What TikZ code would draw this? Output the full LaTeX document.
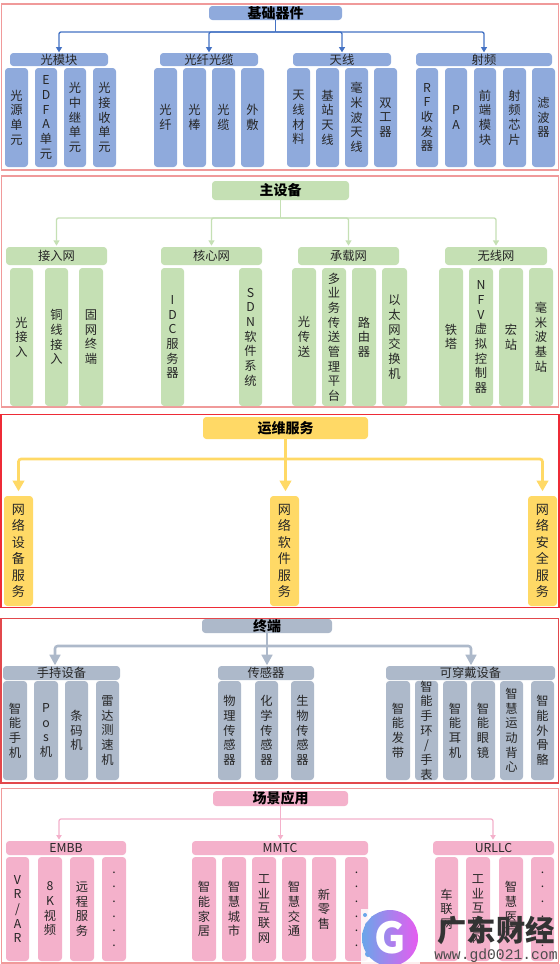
\documentclass[tikz,border=0pt]{standalone}
\usepackage{fontspec}
\setmainfont{Noto Sans CJK SC}
\newfontfamily\wmono{Liberation Mono}
\usetikzlibrary{arrows.meta,calc}
\definecolor{cblue}{HTML}{8FAADC}\definecolor{lblue}{HTML}{4472C4}
\definecolor{cgreen}{HTML}{C5E0B4}
\definecolor{cyellow}{HTML}{FFD966}
\definecolor{cgray}{HTML}{ADB9CA}
\definecolor{cpink}{HTML}{F4B1CB}
\definecolor{txt}{HTML}{262626}
\definecolor{fra}{HTML}{F09A9A}
\definecolor{frb}{HTML}{EE2B36}
\definecolor{frc}{HTML}{E2484C}
\definecolor{gla}{HTML}{6AA6EA}
\definecolor{glb}{HTML}{E65CF0}
\tikzset{
  x=0.75pt,y=-0.75pt,
  box/.style={inner sep=0pt,outer sep=0pt,rounded corners=2.5pt,text=txt,align=center,anchor=center},
  leafA/.style={box,font=\fontsize{9.2}{11}\selectfont},
  leafB/.style={box,font=\fontsize{9.8}{12.4}\selectfont},
  grp/.style={box,font=\fontsize{9.2}{11}\selectfont},
  ttl/.style={box,font=\bfseries\fontsize{10.5}{12}\selectfont,text=black},
  fblue/.style={fill=cblue},fgreen/.style={fill=cgreen},fyel/.style={fill=cyellow},fgry/.style={fill=cgray},fpnk/.style={fill=cpink},
  frameline/.style={line width=1pt},
  c1/.style={draw=lblue,line width=1pt,rounded corners=1.5pt},
  c2/.style={draw=cgreen,line width=1pt,rounded corners=1.5pt},
  c3/.style={draw=cyellow,line width=2pt,rounded corners=2pt},
  c4/.style={draw=cgray,line width=1.9pt,rounded corners=2pt},
  c5/.style={draw=cpink,line width=0.9pt,rounded corners=1.5pt},
  a1/.style={-{Triangle[length=4pt,width=4.5pt]},shorten >=0.5pt},
  a2/.style={-{Triangle[length=4pt,width=4.5pt]},shorten >=1pt},
  a3/.style={-{Triangle[length=8pt,width=8.5pt]},shorten >=3.5pt},
  a4/.style={-{Triangle[length=8pt,width=8pt]},shorten >=0.5pt},
  a5/.style={-{Triangle[length=3.5pt,width=4pt]},shorten >=1pt},
}
% \blk[style]{name}{x0}{y0}{x1}{y1}{text}
\newcommand{\blk}[7][]{%
  \pgfmathsetmacro{\bw}{(#5-#3)*0.75}\pgfmathsetmacro{\bh}{(#6-#4)*0.75}%
  \node[#1,minimum width=\bw pt,minimum height=\bh pt] (#2) at ({(#3+#5)/2},{(#4+#6)/2}) {#7};}
% \conn{line style}{head style}{title}{trunk}{target}
\newcommand{\conn}[5]{\draw[#1] (#3.south) -- (#3.south |- #4);\draw[#1,#2] (#3.south |- #4) -| (#5);}
\begin{document}
\begin{tikzpicture}
\useasboundingbox (0,0) rectangle (560,964);
\fill[white] (0,0) rectangle (560,964);
% frames
\draw[frameline,draw=fra] (1.5,4) rectangle (558.5,170);
\draw[frameline,draw=fra] (1.5,176) rectangle (558.5,407);
\draw[frameline,draw=frb] (1,414.5) rectangle (559,607.5);
\draw[frameline,draw=frc] (1,618.5) rectangle (558.5,783);
\draw[frameline,draw=fra] (1.5,788.5) rectangle (558.5,963);

% ===== section 1
\blk[ttl,fblue]{t1}{209}{6}{342}{20}{基础器件}
\coordinate (tr1) at (0,32);
\blk[grp,fblue]{g11}{10}{53}{108}{66}{光模块}
\blk[grp,fblue]{g12}{160}{53}{258}{66}{光纤光缆}
\blk[grp,fblue]{g13}{293}{53}{391}{66}{天线}
\blk[grp,fblue]{g14}{416}{53}{552}{66}{射频}
\conn{c1}{a1}{t1}{tr1}{g11.north}\conn{c1}{a1}{t1}{tr1}{g12.north}\conn{c1}{a1}{t1}{tr1}{g13.north}\conn{c1}{a1}{t1}{tr1}{g14.north}
\blk[leafA,fblue]{a1n}{5}{68}{28}{167}{光\\源\\单\\元}
\blk[leafA,fblue]{a2n}{35}{68}{57}{167}{E\\D\\F\\A\\单\\元}
\blk[leafA,fblue]{a3n}{64}{68}{86}{167}{光\\中\\继\\单\\元}
\blk[leafA,fblue]{a4n}{93}{68}{116}{167}{光\\接\\收\\单\\元}
\blk[leafA,fblue]{a5n}{154}{68}{177}{167}{光\\纤}
\blk[leafA,fblue]{a6n}{183}{68}{206}{167}{光\\棒}
\blk[leafA,fblue]{a7n}{212}{68}{235}{167}{光\\缆}
\blk[leafA,fblue]{a8n}{241}{68}{264}{167}{外\\敷}
\blk[leafA,fblue]{a9n}{287}{68}{310}{167}{天\\线\\材\\料}
\blk[leafA,fblue]{a10n}{316}{68}{339}{167}{基\\站\\天\\线}
\blk[leafA,fblue]{a11n}{345}{68}{368}{167}{毫\\米\\波\\天\\线}
\blk[leafA,fblue]{a12n}{374}{68}{397}{167}{双\\工\\器}
\blk[leafA,fblue]{a13n}{416}{68}{438}{167}{R\\F\\收\\发\\器}
\blk[leafA,fblue]{a14n}{445}{68}{467}{167}{P\\A}
\blk[leafA,fblue]{a15n}{474}{68}{496}{167}{前\\端\\模\\块}
\blk[leafA,fblue]{a16n}{503}{68}{526}{167}{射\\频\\芯\\片}
\blk[leafA,fblue]{a17n}{532}{68}{555}{167}{滤\\波\\器}

% ===== section 2
\blk[ttl,fgreen]{t2}{212}{181}{349}{200}{主设备}
\coordinate (tr2) at (0,218);
\blk[grp,fgreen]{g21}{6}{247}{107}{265}{接入网}
\blk[grp,fgreen]{g22}{161}{247}{262}{265}{核心网}
\blk[grp,fgreen]{g23}{298}{247}{399}{265}{承载网}
\blk[grp,fgreen]{g24}{445}{247}{547}{265}{无线网}
\conn{c2}{a2}{t2}{tr2}{g21.north}\conn{c2}{a2}{t2}{tr2}{g22.north}\conn{c2}{a2}{t2}{tr2}{g23.north}\conn{c2}{a2}{t2}{tr2}{g24.north}
\blk[leafA,fgreen]{b1}{10}{268}{33}{406}{光\\接\\入}
\blk[leafA,fgreen]{b2}{45}{268}{68}{406}{铜\\线\\接\\入}
\blk[leafA,fgreen]{b3}{79}{268}{103}{406}{固\\网\\终\\端}
\blk[leafA,fgreen]{b4}{161}{268}{184}{406}{I\\D\\C\\服\\务\\器}
\blk[leafA,fgreen]{b5}{239}{268}{262}{406}{S\\D\\N\\软\\件\\系\\统}
\blk[leafA,fgreen]{b6}{292}{268}{316}{406}{光\\传\\送}
\blk[leafA,fgreen]{b7}{322}{268}{346}{406}{多\\业\\务\\传\\送\\管\\理\\平\\台}
\blk[leafA,fgreen]{b8}{352}{268}{376}{406}{路\\由\\器}
\blk[leafA,fgreen]{b9}{382}{268}{407}{406}{以\\太\\网\\交\\换\\机}
\blk[leafA,fgreen]{b10}{439}{268}{463}{406}{铁\\塔}
\blk[leafA,fgreen]{b11}{469}{268}{493}{406}{N\\F\\V\\虚\\拟\\控\\制\\器}
\blk[leafA,fgreen]{b12}{499}{268}{523}{406}{宏\\站}
\blk[leafA,fgreen]{b13}{529}{268}{553}{406}{毫\\米\\波\\基\\站}

% ===== section 3
\blk[ttl,fyel]{t3}{203}{417}{368}{439}{运维服务}
\coordinate (tr3) at (0,459);
\blk[leafB,fyel]{d1}{4}{496}{33}{606}{网\\络\\设\\备\\服\\务}
\blk[leafB,fyel]{d2}{270}{496}{299}{606}{网\\络\\软\\件\\服\\务}
\blk[leafB,fyel]{d3}{528}{496}{557}{606}{网\\络\\安\\全\\服\\务}
\conn{c3}{a3}{t3}{tr3}{d1.north}\conn{c3}{a3}{t3}{tr3}{d3.north}
\draw[c3,a3] (t3.south) -- (t3.south |- d2.north);

% ===== section 4
\blk[ttl,fgry]{t4}{202}{619}{332}{633}{终端}
\coordinate (tr4) at (0,646);
\blk[grp,fgry]{g41}{3}{666}{120}{680}{手持设备}
\blk[grp,fgry]{g42}{218}{666}{314}{680}{传感器}
\blk[grp,fgry]{g43}{386}{666}{555}{680}{可穿戴设备}
\coordinate (p41) at (55,666);\coordinate (p43) at (471,666);
\conn{c4}{a4}{t4}{tr4}{p41}\conn{c4}{a4}{t4}{tr4}{p43}
\draw[c4,a4] (t4.south) -- (t4.south |- g42.north);
\blk[leafA,fgry]{e1}{3}{681}{27}{780}{智\\能\\手\\机}
\blk[leafA,fgry]{e2}{34}{681}{58}{780}{P\\o\\s\\机}
\blk[leafA,fgry]{e3}{65}{681}{88}{780}{条\\码\\机}
\blk[leafA,fgry]{e4}{96}{681}{119}{780}{雷\\达\\测\\速\\机}
\blk[leafA,fgry]{e5}{218}{681}{241}{780}{物\\理\\传\\感\\器}
\blk[leafA,fgry]{e6}{255}{681}{278}{780}{化\\学\\传\\感\\器}
\blk[leafA,fgry]{e7}{291}{681}{314}{780}{生\\物\\传\\感\\器}
\blk[leafA,fgry]{e8}{386}{681}{410}{780}{智\\能\\发\\带}
\blk[leafA,fgry]{e9}{415}{681}{438}{780}{智\\能\\手\\环\\/\\手\\表}
\blk[leafA,fgry]{e10}{443}{681}{467}{780}{智\\能\\耳\\机}
\blk[leafA,fgry]{e11}{471}{681}{495}{780}{智\\能\\眼\\镜}
\blk[leafA,fgry]{e12}{500}{681}{523}{780}{智\\慧\\运\\动\\背\\心}
\blk[leafA,fgry]{e13}{531}{681}{554}{780}{智\\能\\外\\骨\\骼}

% ===== section 5
\blk[ttl,fpnk]{t5}{213}{791}{348}{806}{场景应用}
\coordinate (tr5) at (0,819);
\blk[grp,fpnk]{g51}{6}{841}{126}{855}{EMBB}
\blk[grp,fpnk]{g52}{192}{841}{368}{855}{MMTC}
\blk[grp,fpnk]{g53}{433}{841}{554}{855}{URLLC}
\coordinate (p51) at (59,841);\coordinate (p53) at (493,841);
\conn{c5}{a5}{t5}{tr5}{p51}\conn{c5}{a5}{t5}{tr5}{p53}
\draw[c5,a5] (t5.south) -- (t5.south |- g52.north);
\blk[leafA,fpnk]{f1}{6}{857}{29}{961}{V\\R\\/\\A\\R}
\blk[leafA,fpnk]{f2}{38}{857}{62}{961}{8\\K\\视\\频}
\blk[leafA,fpnk]{f3}{70}{857}{94}{961}{远\\程\\服\\务}
\blk[leafA,fpnk]{f4}{102}{857}{126}{961}{.\\.\\.\\.\\.\\.}
\blk[leafA,fpnk]{f5}{192}{857}{216}{961}{智\\能\\家\\居}
\blk[leafA,fpnk]{f6}{222}{857}{246}{961}{智\\慧\\城\\市}
\blk[leafA,fpnk]{f7}{252}{857}{276}{961}{工\\业\\互\\联\\网}
\blk[leafA,fpnk]{f8}{282}{857}{306}{961}{智\\慧\\交\\通}
\blk[leafA,fpnk]{f9}{312}{857}{336}{961}{新\\零\\售}
\blk[leafA,fpnk]{f10}{345}{857}{368}{961}{.\\.\\.\\.\\.\\.}
\blk[leafA,fpnk]{f11}{435}{857}{458}{961}{车\\联\\网}
\blk[leafA,fpnk]{f12}{466}{857}{490}{961}{工\\业\\互\\联\\网}
\blk[leafA,fpnk]{f13}{499}{857}{523}{961}{智\\慧\\医\\疗}
\blk[leafA,fpnk]{f14}{531}{857}{554}{961}{.\\.\\.\\.\\.\\.}

% ===== watermark
\fill[white,opacity=0.85] (361,909) rectangle (420,964);
\foreach \px/\py/\pr in {365/915/2,368/925/3,367/935/5,368/945/4,368/954/3,375/920/5,372/930/4,374/950/6,378/957/4}
  \fill[gla] (\px,\py) circle (\pr);
\shade[left color=gla,right color=glb] (390,938) circle (28);
\node[font=\bfseries\itshape\fontsize{32}{32}\selectfont,text=white,inner sep=0pt] (logo) at (390,938) {G};
\node[font=\bfseries\fontsize{22}{24}\selectfont,text=black!80,inner sep=0pt] (wm1) at (496,930) {广东财经};
\node[font=\wmono\fontsize{11}{12}\selectfont,text=black!70,inner sep=0pt] (wm2) at (496,956) {www.gd0021.com};
\end{tikzpicture}
\end{document}
